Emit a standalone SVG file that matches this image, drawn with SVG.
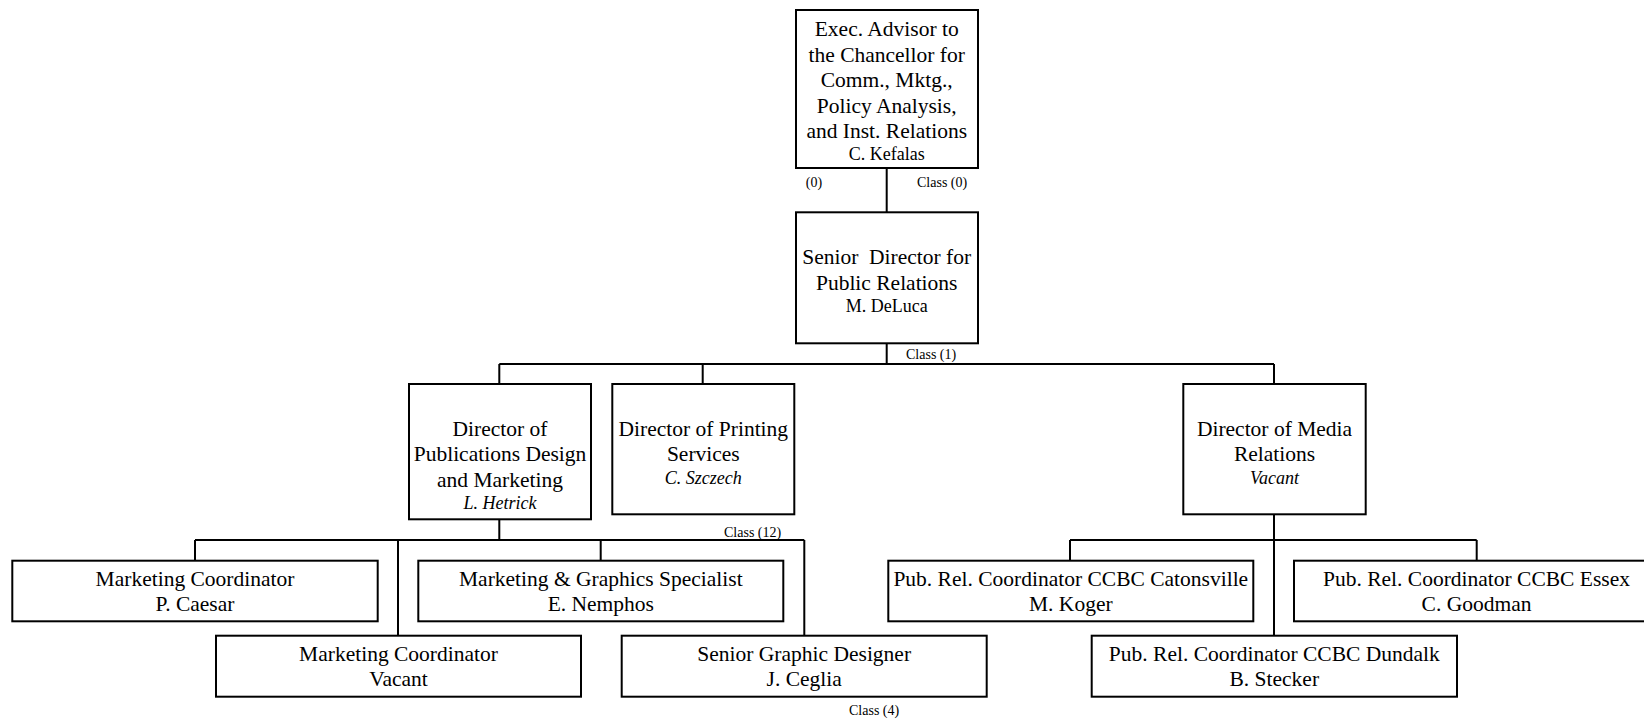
<svg xmlns="http://www.w3.org/2000/svg" width="1644" height="719" viewBox="0 0 1644 719">
<style>
.box{fill:#fff;stroke:#000;stroke-width:2}
.con{fill:none;stroke:#000;stroke-width:2}
text{font-family:"Liberation Serif","Times New Roman",serif;fill:#000}
.t{font-size:21.5px;text-anchor:middle}
.n{font-size:18px;text-anchor:middle}
.i{font-size:18px;text-anchor:middle;font-style:italic}
.c{font-size:14px}
</style>
<rect width="1644" height="719" fill="#fff"/>
<g id="connectors">
<path class="con" d="M886.7 168V212M886.7 343V364M499.3 364H1274M499.3 364V384M702.7 364V384M1274 364V384"/>
<path class="con" d="M499.3 519V540M195 540H804.3M195 540V560.7M398 540V635.7M600.7 540V560.7M804.3 540V635.7"/>
<path class="con" d="M1274 514V635.7M1070 540H1476.7M1070 540V560.7M1476.7 540V560.7"/>
</g>
<g id="labels">
<text class="c" x="814" y="187" text-anchor="middle">(0)</text>
<text class="c" x="917" y="187">Class (0)</text>
<text class="c" x="906" y="359">Class (1)</text>
<text class="c" x="724" y="537">Class (12)</text>
<text class="c" x="849" y="715">Class (4)</text>
</g>
<g id="exec">
<rect class="box" x="796" y="10" width="182" height="158"/>
<text class="t" x="886.7" y="36">Exec. Advisor to</text>
<text class="t" x="886.7" y="61.5">the Chancellor for</text>
<text class="t" x="886.7" y="87">Comm., Mktg.,</text>
<text class="t" x="886.7" y="112.5">Policy Analysis,</text>
<text class="t" x="886.7" y="138">and Inst. Relations</text>
<text class="n" x="886.7" y="160">C. Kefalas</text>
</g>
<g id="senior">
<rect class="box" x="796" y="212.3" width="182" height="131"/>
<text class="t" x="886.7" y="264" xml:space="preserve">Senior  Director for</text>
<text class="t" x="886.7" y="289.5">Public Relations</text>
<text class="n" x="886.7" y="311.5">M. DeLuca</text>
</g>
<g id="publications">
<rect class="box" x="409" y="384" width="182" height="135.3"/>
<text class="t" x="500" y="435.5">Director of</text>
<text class="t" x="500" y="461">Publications Design</text>
<text class="t" x="500" y="487">and Marketing</text>
<text class="i" x="500" y="509">L. Hetrick</text>
</g>
<g id="printing">
<rect class="box" x="612.3" y="384" width="182" height="130.3"/>
<text class="t" x="703.3" y="435.5">Director of Printing</text>
<text class="t" x="703.3" y="461">Services</text>
<text class="i" x="703.3" y="483.5">C. Szczech</text>
</g>
<g id="media">
<rect class="box" x="1183.3" y="384" width="182.4" height="130.3"/>
<text class="t" x="1274.5" y="435.5">Director of Media</text>
<text class="t" x="1274.5" y="461">Relations</text>
<text class="i" x="1274.5" y="483.5">Vacant</text>
</g>
<g id="caesar">
<rect class="box" x="12.3" y="560.7" width="365.4" height="60.6"/>
<text class="t" x="195" y="585.5">Marketing Coordinator</text>
<text class="t" x="195" y="611">P. Caesar</text>
</g>
<g id="nemphos">
<rect class="box" x="418.3" y="560.7" width="365" height="60.6"/>
<text class="t" x="600.8" y="585.5">Marketing &amp; Graphics Specialist</text>
<text class="t" x="600.8" y="611">E. Nemphos</text>
</g>
<g id="vacant-mc">
<rect class="box" x="216" y="635.7" width="365" height="61"/>
<text class="t" x="398.5" y="660.5">Marketing Coordinator</text>
<text class="t" x="398.5" y="686">Vacant</text>
</g>
<g id="ceglia">
<rect class="box" x="621.7" y="635.7" width="365" height="61"/>
<text class="t" x="804.2" y="660.5">Senior Graphic Designer</text>
<text class="t" x="804.2" y="686">J. Ceglia</text>
</g>
<g id="koger">
<rect class="box" x="888.3" y="560.7" width="365" height="60.6"/>
<text class="t" x="1070.8" y="585.5">Pub. Rel. Coordinator CCBC Catonsville</text>
<text class="t" x="1070.8" y="611">M. Koger</text>
</g>
<g id="goodman">
<rect class="box" x="1294" y="560.7" width="365" height="60.6"/>
<text class="t" x="1476.5" y="585.5">Pub. Rel. Coordinator CCBC Essex</text>
<text class="t" x="1476.5" y="611">C. Goodman</text>
</g>
<g id="stecker">
<rect class="box" x="1091.7" y="635.7" width="365.3" height="61"/>
<text class="t" x="1274.3" y="660.5">Pub. Rel. Coordinator CCBC Dundalk</text>
<text class="t" x="1274.3" y="686">B. Stecker</text>
</g>
</svg>
